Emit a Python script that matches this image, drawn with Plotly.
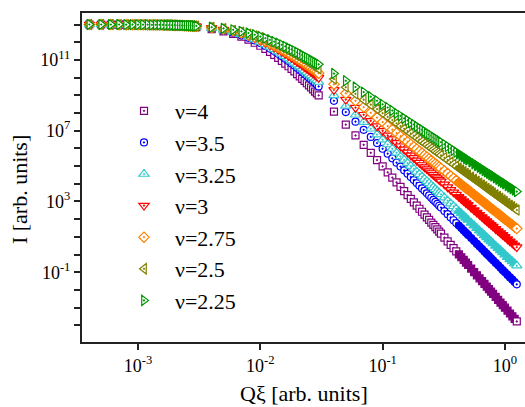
import plotly.graph_objects as go

# Q*xi values (arb. units)
q_xi = [
    0.0004, 0.0005, 0.0006, 0.0007, 0.0008, 0.0009, 0.0010, 0.0011, 0.0012, 0.0013,
    0.0014, 0.0015, 0.0016, 0.0017, 0.0018, 0.0019, 0.0020, 0.0021, 0.0022, 0.0023,
    0.0024, 0.0025, 0.0026, 0.0027, 0.0028, 0.0029, 0.0030,
    0.004, 0.005, 0.006, 0.007, 0.008, 0.009, 0.010, 0.011, 0.012, 0.013,
    0.014, 0.015, 0.016, 0.017, 0.018, 0.019, 0.020, 0.021, 0.022, 0.023,
    0.024, 0.025, 0.026, 0.027, 0.028, 0.029, 0.030,
    0.04, 0.05, 0.06, 0.07, 0.08, 0.09, 0.10, 0.11, 0.12, 0.13,
    0.14, 0.15, 0.16, 0.17, 0.18, 0.19, 0.20, 0.21, 0.22, 0.23,
    0.24, 0.25, 0.26, 0.27, 0.28, 0.29, 0.30,
    0.32, 0.34, 0.36, 0.38, 0.40, 0.42, 0.44, 0.46, 0.48, 0.50,
    0.53, 0.56, 0.59, 0.62, 0.65, 0.68, 0.71, 0.74, 0.77, 0.80,
    0.84, 0.88, 0.92, 0.96, 1.00, 1.05, 1.10, 1.15, 1.20, 1.25,
]

# log10(I), one list per series
log_i_nu4 = [
    13.00, 13.00, 12.99, 12.99, 12.99, 12.99, 12.98, 12.98, 12.98, 12.97,
    12.97, 12.96, 12.96, 12.95, 12.94, 12.94, 12.93, 12.92, 12.92, 12.91,
    12.90, 12.89, 12.89, 12.88, 12.87, 12.86, 12.85,
    12.74, 12.61, 12.47, 12.31, 12.14, 11.97, 11.80, 11.62, 11.45, 11.28,
    11.11, 10.95, 10.79, 10.64, 10.49, 10.35, 10.20, 10.07, 9.93, 9.81,
    9.68, 9.56, 9.44, 9.33, 9.21, 9.11, 9.00,
    8.08, 7.34, 6.73, 6.20, 5.75, 5.34, 4.98, 4.65, 4.35, 4.08,
    3.82, 3.58, 3.36, 3.15, 2.95, 2.77, 2.59, 2.42, 2.26, 2.10,
    1.96, 1.81, 1.68, 1.55, 1.42, 1.30, 1.18,
    0.96, 0.75, 0.55, 0.36, 0.18, 0.01, -0.15, -0.30, -0.45, -0.59,
    -0.79, -0.99, -1.17, -1.34, -1.50, -1.66, -1.81, -1.95, -2.09, -2.22,
    -2.39, -2.56, -2.71, -2.86, -3.00, -3.17, -3.33, -3.49, -3.63, -3.78,
]
log_i_nu3_5 = [
    13.00, 13.00, 12.99, 12.99, 12.99, 12.99, 12.98, 12.98, 12.98, 12.97,
    12.97, 12.97, 12.96, 12.96, 12.95, 12.95, 12.94, 12.93, 12.93, 12.92,
    12.91, 12.91, 12.90, 12.89, 12.89, 12.88, 12.87,
    12.77, 12.66, 12.53, 12.39, 12.25, 12.10, 11.95, 11.79, 11.64, 11.50,
    11.35, 11.21, 11.07, 10.94, 10.80, 10.68, 10.55, 10.43, 10.32, 10.20,
    10.10, 9.99, 9.89, 9.79, 9.69, 9.59, 9.50,
    8.69, 8.05, 7.51, 7.05, 6.65, 6.30, 5.98, 5.70, 5.44, 5.19,
    4.97, 4.76, 4.57, 4.38, 4.21, 4.04, 3.89, 3.74, 3.60, 3.46,
    3.34, 3.21, 3.09, 2.98, 2.87, 2.76, 2.66,
    2.46, 2.28, 2.10, 1.94, 1.78, 1.64, 1.50, 1.36, 1.23, 1.11,
    0.93, 0.76, 0.60, 0.45, 0.31, 0.17, 0.04, -0.08, -0.21, -0.32,
    -0.47, -0.61, -0.75, -0.88, -1.00, -1.15, -1.29, -1.42, -1.55, -1.68,
]
log_i_nu3_25 = [
    13.00, 13.00, 12.99, 12.99, 12.99, 12.99, 12.99, 12.98, 12.98, 12.98,
    12.97, 12.97, 12.96, 12.96, 12.95, 12.95, 12.94, 12.94, 12.93, 12.93,
    12.92, 12.91, 12.91, 12.90, 12.89, 12.89, 12.88,
    12.79, 12.69, 12.57, 12.44, 12.30, 12.16, 12.02, 11.88, 11.74, 11.60,
    11.47, 11.34, 11.21, 11.08, 10.96, 10.84, 10.73, 10.62, 10.51, 10.40,
    10.30, 10.20, 10.11, 10.01, 9.92, 9.84, 9.75,
    9.00, 8.40, 7.90, 7.48, 7.11, 6.78, 6.49, 6.22, 5.98, 5.75,
    5.54, 5.35, 5.17, 5.00, 4.84, 4.68, 4.54, 4.40, 4.27, 4.15,
    4.03, 3.91, 3.80, 3.69, 3.59, 3.49, 3.40,
    3.22, 3.04, 2.88, 2.73, 2.59, 2.45, 2.32, 2.19, 2.07, 1.96,
    1.79, 1.64, 1.49, 1.35, 1.22, 1.09, 0.97, 0.85, 0.74, 0.63,
    0.49, 0.36, 0.24, 0.12, 0.00, -0.14, -0.27, -0.39, -0.51, -0.63,
]
log_i_nu3 = [
    13.00, 13.00, 13.00, 12.99, 12.99, 12.99, 12.99, 12.98, 12.98, 12.98,
    12.97, 12.97, 12.97, 12.96, 12.96, 12.95, 12.95, 12.94, 12.94, 12.93,
    12.93, 12.92, 12.91, 12.91, 12.90, 12.89, 12.89,
    12.81, 12.71, 12.60, 12.48, 12.36, 12.23, 12.10, 11.97, 11.84, 11.71,
    11.59, 11.46, 11.35, 11.23, 11.12, 11.01, 10.90, 10.80, 10.70, 10.60,
    10.51, 10.42, 10.33, 10.24, 10.16, 10.08, 10.00,
    9.31, 8.76, 8.30, 7.90, 7.56, 7.26, 6.99, 6.74, 6.52, 6.31,
    6.12, 5.94, 5.77, 5.61, 5.46, 5.32, 5.19, 5.06, 4.94, 4.83,
    4.72, 4.61, 4.51, 4.41, 4.32, 4.22, 4.14,
    3.97, 3.81, 3.66, 3.52, 3.39, 3.26, 3.14, 3.02, 2.91, 2.81,
    2.65, 2.51, 2.37, 2.25, 2.12, 2.00, 1.89, 1.78, 1.68, 1.58,
    1.45, 1.33, 1.22, 1.11, 1.00, 0.87, 0.75, 0.64, 0.52, 0.42,
]
log_i_nu2_75 = [
    13.00, 13.00, 13.00, 12.99, 12.99, 12.99, 12.99, 12.99, 12.98, 12.98,
    12.98, 12.97, 12.97, 12.97, 12.96, 12.96, 12.95, 12.95, 12.94, 12.94,
    12.93, 12.93, 12.92, 12.92, 12.91, 12.90, 12.90,
    12.82, 12.73, 12.63, 12.52, 12.41, 12.29, 12.17, 12.05, 11.93, 11.82,
    11.70, 11.59, 11.48, 11.38, 11.27, 11.17, 11.08, 10.98, 10.89, 10.80,
    10.72, 10.63, 10.55, 10.47, 10.40, 10.32, 10.25,
    9.62, 9.11, 8.69, 8.33, 8.01, 7.74, 7.49, 7.26, 7.06, 6.87,
    6.69, 6.53, 6.37, 6.23, 6.09, 5.96, 5.84, 5.73, 5.61, 5.51,
    5.41, 5.31, 5.22, 5.13, 5.04, 4.96, 4.87,
    4.72, 4.58, 4.44, 4.31, 4.19, 4.07, 3.96, 3.85, 3.75, 3.66,
    3.52, 3.38, 3.26, 3.14, 3.03, 2.92, 2.82, 2.72, 2.62, 2.53,
    2.42, 2.31, 2.20, 2.10, 2.00, 1.88, 1.77, 1.67, 1.56, 1.47,
]
log_i_nu2_5 = [
    13.00, 13.00, 13.00, 12.99, 12.99, 12.99, 12.99, 12.99, 12.98, 12.98,
    12.98, 12.98, 12.97, 12.97, 12.97, 12.96, 12.96, 12.95, 12.95, 12.94,
    12.94, 12.93, 12.93, 12.92, 12.92, 12.91, 12.91,
    12.84, 12.76, 12.67, 12.57, 12.46, 12.36, 12.25, 12.14, 12.03, 11.93,
    11.82, 11.72, 11.62, 11.53, 11.43, 11.34, 11.25, 11.17, 11.08, 11.00,
    10.93, 10.85, 10.78, 10.70, 10.63, 10.57, 10.50,
    9.92, 9.46, 9.08, 8.75, 8.47, 8.22, 7.99, 7.78, 7.60, 7.42,
    7.26, 7.11, 6.98, 6.84, 6.72, 6.60, 6.49, 6.39, 6.29, 6.19,
    6.10, 6.01, 5.92, 5.84, 5.76, 5.69, 5.61,
    5.47, 5.34, 5.22, 5.10, 4.99, 4.88, 4.78, 4.69, 4.59, 4.50,
    4.38, 4.26, 4.15, 4.04, 3.94, 3.84, 3.74, 3.65, 3.57, 3.48,
    3.38, 3.28, 3.18, 3.09, 3.00, 2.89, 2.79, 2.70, 2.60, 2.52,
]
log_i_nu2_25 = [
    13.00, 13.00, 13.00, 13.00, 12.99, 12.99, 12.99, 12.99, 12.99, 12.98,
    12.98, 12.98, 12.98, 12.97, 12.97, 12.97, 12.96, 12.96, 12.95, 12.95,
    12.95, 12.94, 12.94, 12.93, 12.93, 12.92, 12.92,
    12.85, 12.78, 12.70, 12.61, 12.52, 12.42, 12.32, 12.23, 12.13, 12.03,
    11.94, 11.85, 11.76, 11.67, 11.59, 11.51, 11.43, 11.35, 11.28, 11.20,
    11.13, 11.06, 11.00, 10.93, 10.87, 10.81, 10.75,
    10.23, 9.82, 9.47, 9.18, 8.92, 8.69, 8.49, 8.31, 8.14, 7.98,
    7.84, 7.70, 7.58, 7.46, 7.35, 7.24, 7.14, 7.05, 6.96, 6.87,
    6.79, 6.71, 6.63, 6.56, 6.49, 6.42, 6.35,
    6.23, 6.11, 6.00, 5.89, 5.79, 5.69, 5.60, 5.52, 5.43, 5.35,
    5.24, 5.13, 5.03, 4.93, 4.84, 4.75, 4.67, 4.59, 4.51, 4.44,
    4.34, 4.25, 4.16, 4.08, 4.00, 3.90, 3.81, 3.73, 3.64, 3.56,
]

series_names = ["ν=4", "ν=3.5", "ν=3.25", "ν=3", "ν=2.75", "ν=2.5", "ν=2.25"]
series_logs = [log_i_nu4, log_i_nu3_5, log_i_nu3_25, log_i_nu3,
               log_i_nu2_75, log_i_nu2_5, log_i_nu2_25]
colors = ["#800080", "#0000FF", "#33C8CC", "#FF0000", "#FF8000", "#808000", "#009600"]
symbols = ["square-dot", "circle-dot", "triangle-up-dot", "triangle-down-dot",
           "diamond-dot", "triangle-left-dot", "triangle-right-dot"]
sizes = [7, 7, 9, 9, 8, 9, 9]

y_labels = {-1: "10<sup>-1</sup>", 3: "10<sup>3</sup>", 7: "10<sup>7</sup>", 11: "10<sup>11</sup>"}
y_tickvals = [10.0 ** e for e in range(-4, 14)]
y_ticktext = [y_labels.get(e, "") for e in range(-4, 14)]
x_tickvals = [1e-3, 1e-2, 1e-1, 1e0]
x_ticktext = ["10<sup>-3</sup>", "10<sup>-2</sup>", "10<sup>-1</sup>", "10<sup>0</sup>"]

n_pts = len(q_xi)
fig = go.Figure()
for name, logs, col, sym, sz in zip(series_names, series_logs, colors, symbols, sizes):
    # white-filled symbols where points are sparse; solid where they crowd into a band
    fills = ["white" if (q <= 0.40 or i == n_pts - 1) else col
             for i, q in enumerate(q_xi)]
    fig.add_trace(go.Scatter(
        x=q_xi, y=[10.0 ** v for v in logs], mode="markers", name=name,
        marker=dict(symbol=sym, size=sz, color=fills,
                    line=dict(color=col, width=1.2)),
    ))

FONT = "Liberation Serif"
fig.update_layout(
    width=525, height=407,
    margin=dict(l=82, r=0, t=13, b=65),
    paper_bgcolor="white", plot_bgcolor="white",
    font=dict(family=FONT, color="black"),
    showlegend=True,
    legend=dict(x=0.07, y=0.766, xanchor="left", yanchor="top",
                bgcolor="rgba(0,0,0,0)", font=dict(size=22, family=FONT),
                itemwidth=52, tracegroupgap=0),
    annotations=[
        dict(text="Qξ [arb. units]", xref="paper", yref="paper", x=0.501, y=-0.158,
             xanchor="center", yanchor="middle", showarrow=False,
             font=dict(size=22, family=FONT)),
        dict(text="I [arb. units]", xref="paper", yref="paper", x=-0.142, y=0.462,
             xanchor="center", yanchor="middle", showarrow=False, textangle=-90,
             font=dict(size=22, family=FONT)),
    ],
)
fig.update_xaxes(type="log", range=[-3.458, 0.164], showgrid=False, zeroline=False,
                 showline=True, linecolor="#222", linewidth=2, mirror=True,
                 ticks="outside", ticklen=6, tickwidth=1.5, tickcolor="#222",
                 tickvals=x_tickvals, ticktext=x_ticktext,
                 tickfont=dict(size=18, family=FONT))
fig.update_yaxes(type="log", range=[-4.94, 13.65], showgrid=False, zeroline=False,
                 showline=True, linecolor="#222", linewidth=2, mirror=False,
                 ticks="outside", ticklen=6, tickwidth=1.5, tickcolor="#222",
                 tickvals=y_tickvals, ticktext=y_ticktext,
                 tickfont=dict(size=18, family=FONT))

fig.write_html("out.html")
